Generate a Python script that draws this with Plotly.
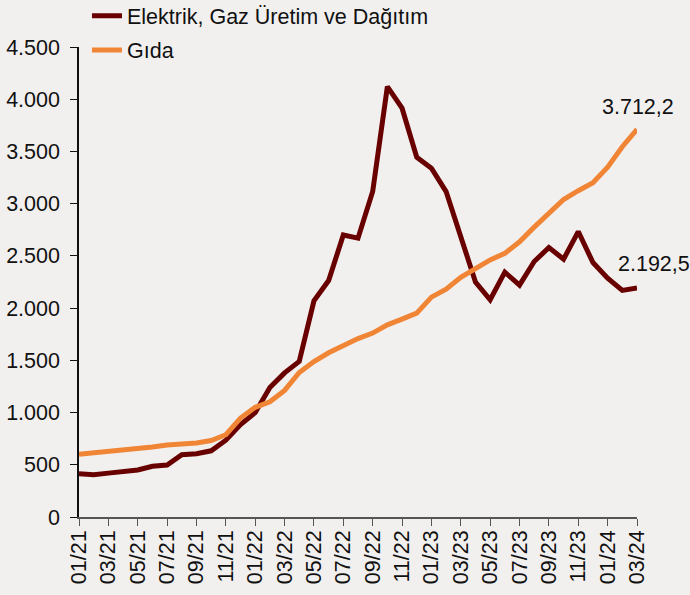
import plotly.graph_objects as go

months = ["01/21","02/21","03/21","04/21","05/21","06/21","07/21","08/21","09/21","10/21","11/21","12/21",
          "01/22","02/22","03/22","04/22","05/22","06/22","07/22","08/22","09/22","10/22","11/22","12/22",
          "01/23","02/23","03/23","04/23","05/23","06/23","07/23","08/23","09/23","10/23","11/23","12/23",
          "01/24","02/24","03/24"]

elektrik = [414, 405, 420, 430, 450, 485, 498, 596, 606, 634, 735, 885,
            1000, 1240, 1380, 1490, 2070, 2264, 2700, 2670, 3116, 4120, 3914, 3445,
            3340, 3116, 2700, 2250, 2080, 2344, 2220, 2446, 2580, 2469, 2733, 2436,
            2287, 2169, 2192.5]

gida = [600, 612, 625, 635, 648, 670, 690, 698, 708, 732, 788, 948,
        1050, 1103, 1212, 1384, 1489, 1572, 1646, 1708, 1761, 1840, 1895, 1952,
        2105, 2182, 2295, 2383, 2462, 2524, 2635, 2775, 2915, 3040, 3124, 3200,
        3349, 3545, 3712.2]

name_e = "Elektrik, Gaz Üretim ve Dağıtım"
name_g = "Gıda"
col_e = "#690000"
col_g = "#F08536"
bg = "#F2F0EF"
FONT = "Liberation Sans"
FS = 21.5

def fmt(v):
    s = f"{v:,.1f}"
    return s.replace(",", "X").replace(".", ",").replace("X", ".")

fig = go.Figure()
fig.add_trace(go.Scatter(x=months, y=elektrik, mode="lines", name=name_e, showlegend=True,
                         line=dict(color=col_e, width=5), legend="legend"))
fig.add_trace(go.Scatter(x=months, y=gida, mode="lines", name=name_g, showlegend=True,
                         line=dict(color=col_g, width=5), legend="legend2"))

fig.add_annotation(x=months[-1], y=gida[-1], text=fmt(gida[-1]), showarrow=False,
                   xanchor="left", yanchor="middle", xshift=-37, yshift=22,
                   font=dict(family=FONT, size=FS, color="#111111"))
fig.add_annotation(x=months[-1], y=elektrik[-1], text=fmt(elektrik[-1]), showarrow=False,
                   xanchor="left", yanchor="middle", xshift=-21, yshift=24,
                   font=dict(family=FONT, size=FS, color="#111111"))

legend_common = dict(bgcolor="rgba(0,0,0,0)", font=dict(family=FONT, size=FS, color="#111111"),
                     xanchor="left", yanchor="middle", itemwidth=30)
fig.update_layout(
    width=690, height=595,
    paper_bgcolor=bg, plot_bgcolor=bg,
    margin=dict(l=79, r=53, t=47, b=78, autoexpand=False),
    separators=",.",
    font=dict(family=FONT, size=FS, color="#111111"),
    showlegend=True,
    legend=dict(x=0.0143, y=1.0666, **legend_common),
    legend2=dict(x=0.0143, y=0.9937, **legend_common),
    xaxis=dict(type="category", range=[0, len(months) - 1], tickangle=-90, automargin=False,
               tickvals=months[::2], ticks="outside", ticklen=7, tickcolor="#555555",
               ticklabelstandoff=-4,
               showline=True, linecolor="#555555", linewidth=1.5, showgrid=False, zeroline=False,
               tickfont=dict(family=FONT, size=FS, color="#111111")),
    yaxis=dict(range=[0, 4500], dtick=500, tickformat=",d", ticks="outside", ticklen=7, automargin=False,
               tickcolor="#111111", showline=True, linecolor="#111111", linewidth=1.5,
               ticklabelstandoff=6,
               showgrid=False, zeroline=False,
               tickfont=dict(family=FONT, size=FS, color="#111111")),
)

fig.write_html("out.html", config={"displayModeBar": False},
               post_script="document.body.style.margin='0';document.body.style.background='%s';" % bg)
